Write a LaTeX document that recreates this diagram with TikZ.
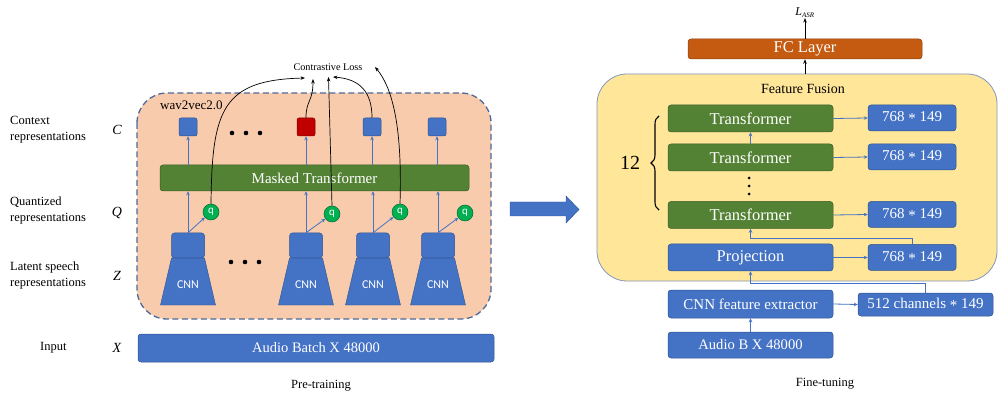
\documentclass[tikz,border=0pt]{standalone}
\usepackage{fontspec}
\setmainfont{Liberation Serif}
\newfontfamily\cnnfont{Carlito}
\usetikzlibrary{arrows.meta,decorations.pathreplacing,calc}
\definecolor{bblue}{HTML}{4472C4}
\definecolor{bborder}{HTML}{2F528F}
\definecolor{tgreen}{HTML}{548235}
\definecolor{peach}{HTML}{F8CBAD}
\definecolor{fyellow}{HTML}{FFE699}
\definecolor{forange}{HTML}{C55A11}
\definecolor{dred}{HTML}{C00000}
\definecolor{qgreen}{HTML}{00B050}
\definecolor{dashcol}{HTML}{4E6A9C}
\tikzset{
  boxbase/.style={rounded corners=3pt, inner sep=0pt, text=white, draw=bborder, line width=0.5pt},
  bluebox/.style={boxbase, fill=bblue},
  greenbox/.style={boxbase, fill=tgreen, draw=tgreen!70!black},
  sq/.style={rounded corners=2pt, inner sep=0pt, minimum width=18pt, minimum height=18pt, line width=0.5pt},
  qnode/.style={circle, fill=qgreen, draw=qgreen!60!black, line width=0.5pt, inner sep=0pt, minimum size=16pt, text=white, font=\cnnfont\fontsize{11}{11}\selectfont},
  barrow/.style={draw=bblue, line width=0.8pt, -{Stealth[length=4pt,width=3.5pt]}},
  karrow/.style={draw=black, line width=0.7pt, -{Stealth[length=4.5pt,width=3.5pt]}},
  lab/.style={align=left, anchor=west, inner sep=0pt, font=\fontsize{12.5}{16}\selectfont},
  sym/.style={inner sep=0pt, font=\itshape\fontsize{14}{14}\selectfont},
}
\begin{document}
\begin{tikzpicture}[x=1pt,y=-1pt]
\useasboundingbox (0,0) rectangle (998,395);

% ---------------- Left panel ----------------
\draw[fill=peach, draw=dashcol, line width=1.3pt, dash pattern=on 6pt off 3.5pt, rounded corners=30pt] (137,93) rectangle (491,319);
\node[anchor=west, inner sep=0pt, font=\fontsize{13}{13}\selectfont] (w2v) at (160,105) {wav2vec2.0};

% side labels
\node[lab] (lc) at (10,130) {Context\\representations};
\node[lab] (lq) at (10,210) {Quantized\\representations};
\node[lab] (lz) at (10,275) {Latent speech\\representations};
\node[lab] (li) at (40,348) {Input};
\node[sym] (sC) at (117,130) {C};
\node[sym] (sQ) at (117,213) {Q};
\node[sym] (sZ) at (117,276) {Z};
\node[sym] (sX) at (117,348) {X};

% context squares
\node[sq, fill=bblue, draw=bborder] (c1) at (188,127) {};
\node[sq, fill=dred, draw=dred!70!black] (c2) at (306,127) {};
\node[sq, fill=bblue, draw=bborder] (c3) at (372,127) {};
\node[sq, fill=bblue, draw=bborder] (c4) at (437,127) {};
\foreach \x in {232,246,260} \fill (\x,133) circle (2.3pt);

% masked transformer
\node[greenbox, minimum width=309pt, minimum height=26pt, font=\fontsize{15}{15}\selectfont] (mt) at (314.5,178) {Masked Transformer};

% CNNs
\foreach \i/\x in {1/188,2/306,3/373,4/438}{
  \fill[bblue, draw=bborder, line width=0.4pt] (\x-16.5,258) -- (\x+16.5,258) -- (\x+27.5,305) -- (\x-27.5,305) -- cycle;
  \node[bluebox, minimum width=33pt, minimum height=25pt] (cnn\i) at (\x,245.5) {};
  \node[text=white, inner sep=0pt, font=\cnnfont\fontsize{12}{12}\selectfont] (cnnl\i) at (\x,285) {CNN};
}
\foreach \x in {231,245,259} \fill (\x,262) circle (2.3pt);

% q nodes
\node[qnode] (q1) at (211,212) {q};
\node[qnode] (q2) at (332,214) {q};
\node[qnode] (q3) at (400,212) {q};
\node[qnode] (q4) at (465,213) {q};

% blue arrows
\foreach \i in {1,2,3,4}{
  \draw[barrow] (mt.north -| c\i) -- (c\i.south);
  \draw[barrow] (cnn\i.north) -- (cnn\i.north |- mt.south);
  \draw[barrow] (cnn\i.north) -- (q\i);
}

% audio batch
\node[bluebox, minimum width=356pt, minimum height=28pt, font=\fontsize{14.5}{14.5}\selectfont] (ab) at (316,348) {Audio Batch X 48000};
\node[inner sep=0pt, font=\fontsize{12.5}{12.5}\selectfont] (pt) at (321,386) {Pre-training};

% contrastive loss
\node[inner sep=0pt, font=\fontsize{10.2}{10.2}\selectfont] (cl) at (328,67) {Contrastive Loss};
\coordinate (t1) at (305,78);
\coordinate (t2) at (313,79);
\coordinate (t3) at (328.5,77);
\coordinate (t4) at (333,77);
\coordinate (t5) at (375,67);
\draw[karrow] (q1.north) .. controls (212,110) and (222,80) .. (t1);
\draw[karrow] (c2.north) .. controls (306,100) and (313,102) .. (t2);
\draw[karrow] (q2.north) -- (t3);
\draw[karrow] (c3.north) .. controls (372,92) and (360,79) .. (t4);
\draw[karrow] (q3.north) .. controls (402,140) and (396,92) .. (t5);

% big arrow
\fill[bblue, draw=bborder, line width=0.4pt] (510,202) -- (566,202) -- (566,196) -- (579,209.5) -- (566,223) -- (566,216) -- (510,216) -- cycle;

% ---------------- Right panel ----------------
\node[rounded corners=30pt, fill=fyellow, draw=dashcol!70, line width=0.8pt, minimum width=400pt, minimum height=207pt, inner sep=0pt] (ff) at (797,177.5) {};
\node[inner sep=0pt, font=\fontsize{14}{14}\selectfont] (fft) at (803,89) {Feature Fusion};

\node[boxbase, fill=forange, draw=forange!70!black, minimum width=234pt, minimum height=20pt, font=\fontsize{16.5}{16.5}\selectfont] (fc) at (805,49) {FC Layer};
\node[inner sep=0pt, font=\fontsize{12}{12}\selectfont] (lasr) at (805,13) {\itshape L\textsubscript{\fontsize{7}{7}\selectfont ASR}};
\draw[karrow] (fc.north) -- (lasr.south);
\draw[karrow] (fc.south |- ff.north) -- (fc.south);

\tikzset{rbox/.style={minimum width=165pt, minimum height=27pt, font=\fontsize{16.5}{16.5}\selectfont},
         dbox/.style={bluebox, minimum width=88pt, minimum height=26pt, font=\fontsize{15}{15}\selectfont}}
\node[greenbox, rbox] (tr1) at (750.5,118.5) {Transformer};
\node[greenbox, rbox] (tr2) at (750.5,157.5) {Transformer};
\node[greenbox, rbox] (tr3) at (750.5,215) {Transformer};
\node[bluebox, rbox] (proj) at (750.5,257.5) {Projection};
\node[bluebox, rbox, minimum height=28pt, font=\fontsize{15}{15}\selectfont] (cfe) at (750.5,304) {CNN feature extractor};
\node[bluebox, rbox, minimum height=26pt, font=\fontsize{14.6}{14.6}\selectfont] (aud) at (750.5,345) {Audio B X 48000};

\node[dbox] (d1) at (912,118) {768 \raisebox{-2pt}{*} 149};
\node[dbox] (d2) at (912,157) {768 \raisebox{-2pt}{*} 149};
\node[dbox] (d3) at (912,214.5) {768 \raisebox{-2pt}{*} 149};
\node[dbox] (d4) at (912,257.5) {768 \raisebox{-2pt}{*} 149};
\node[bluebox, minimum width=135pt, minimum height=23pt, font=\fontsize{15}{15}\selectfont] (ch) at (925.5,304.5) {512 channels \raisebox{-2pt}{*} 149};

\foreach \y in {178,186,194} \fill (749,\y) circle (1.5pt);

\draw[barrow] (tr2.north) -- (tr1.south);
\draw[barrow] (tr1.east) -- (d1.west);
\draw[barrow] (tr2.east) -- (d2.west);
\draw[barrow] (tr3.east) -- (d3.west);
\draw[barrow] (proj.east) -- (d4.west);
\draw[barrow] (cfe.east) -- (ch.west);
\draw[barrow] (aud.north) -- (cfe.south);
\draw[barrow] (d4.north) -- ++(0,-6) -| (tr3.south);
\draw[barrow] (ch.north) -- ++(0,-9) -| (proj.south);

\node[inner sep=0pt, font=\fontsize{20}{20}\selectfont] (twelve) at (630,163) {12};
\draw[line width=1.1pt, decorate, decoration={brace, amplitude=8pt}] (659,210) -- (659,116);

\node[inner sep=0pt, font=\fontsize{12.5}{12.5}\selectfont] (ft) at (825,384) {Fine-tuning};
\end{tikzpicture}
\end{document}
